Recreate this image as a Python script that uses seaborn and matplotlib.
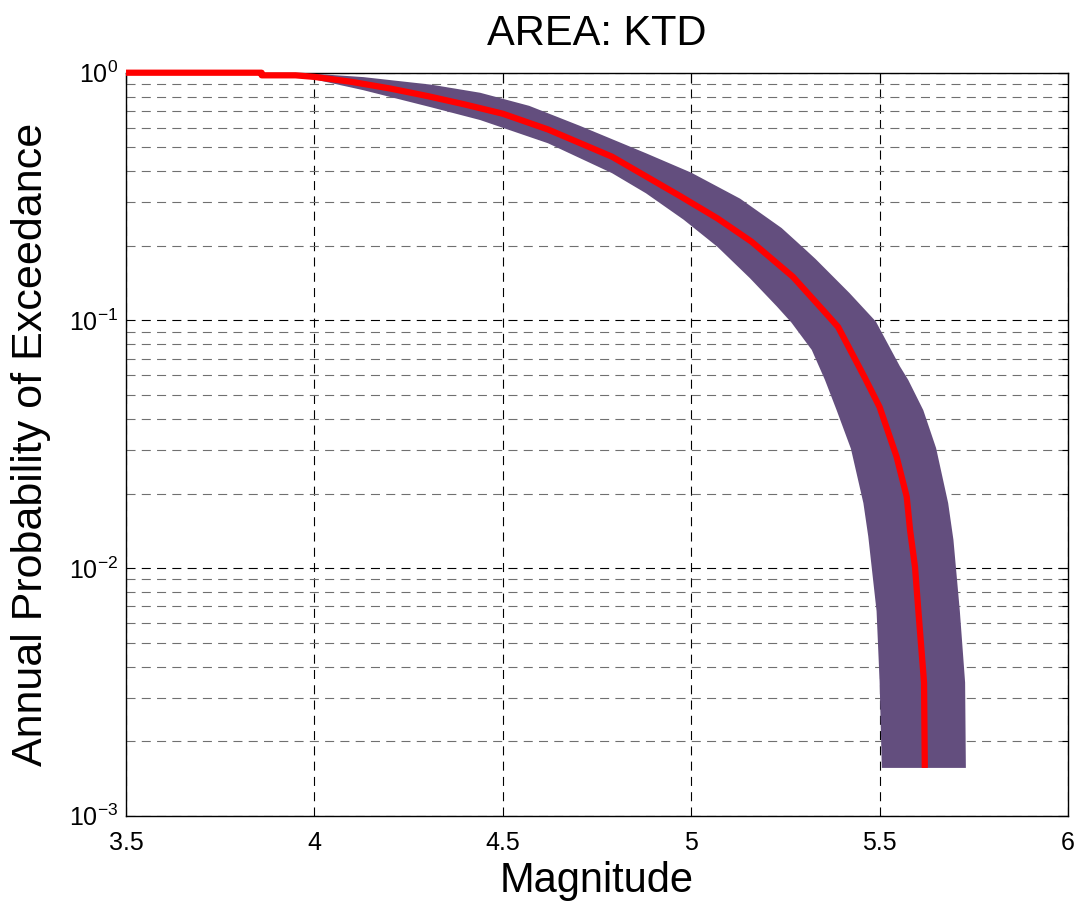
#Annual probability of exceedance vs magnitude, area KTD
#Saves the chart as out.png

import numpy as np
import pandas as pd
from matplotlib import pyplot as plt
from matplotlib import ticker
import seaborn as sns

#Mean curve (red line)
mag_mean = [3.50, 3.86, 3.86, 3.95, 4.00, 4.10, 4.20, 4.30, 4.40, 4.50, 4.62, 4.79, 4.97,
            5.07, 5.16, 5.27, 5.35, 5.39, 5.46, 5.50, 5.545, 5.572, 5.581, 5.594, 5.603, 5.612,
            5.618, 5.620]
prob_mean = [1.000, 1.000, 0.976, 0.976, 0.962, 0.918, 0.864, 0.805, 0.744, 0.683, 0.590,
             0.458, 0.318, 0.258, 0.208, 0.150, 0.110, 0.094, 0.059, 0.0447, 0.0282, 0.0194,
             0.0142, 0.0101, 0.0067, 0.0045, 0.00345, 0.00156]

#Upper (right) edge of the uncertainty band
mag_hi = [3.93, 4.00, 4.13, 4.31, 4.44, 4.57, 4.705, 4.88, 5.00, 5.13, 5.24, 5.30, 5.33, 5.42,
          5.49, 5.554, 5.576, 5.616, 5.65, 5.682, 5.696, 5.713, 5.727, 5.729]
prob_hi = [1.000, 0.990, 0.960, 0.895, 0.830, 0.735, 0.610, 0.473, 0.395, 0.310, 0.236, 0.195,
           0.177, 0.129, 0.099, 0.0652, 0.0575, 0.0434, 0.0305, 0.0183, 0.0130, 0.0067, 0.00345,
           0.00156]

#Lower (left) edge of the uncertainty band
mag_lo = [3.88, 4.00, 4.13, 4.31, 4.44, 4.62, 4.79, 4.88, 4.98, 5.07, 5.156, 5.227, 5.266, 5.32,
          5.355, 5.386, 5.424, 5.457, 5.470, 5.492, 5.500, 5.506]
prob_lo = [0.990, 0.940, 0.850, 0.725, 0.644, 0.519, 0.393, 0.326, 0.255, 0.198, 0.148, 0.114,
           0.098, 0.076, 0.0575, 0.0434, 0.0303, 0.0183, 0.0134, 0.0067, 0.0035, 0.00156]

x_ticks = [3.5, 4, 4.5, 5, 5.5, 6]
x_tick_labels = ["3.5", "4", "4.5", "5", "5.5", "6"]

sns.set_style("white")
plt.rcParams['font.family'] = ['Liberation Sans', 'DejaVu Sans']
plt.rcParams['axes.unicode_minus'] = False
plt.rcParams['lines.scale_dashes'] = False
plt.rcParams['text.color'] = 'black'
plt.rcParams['axes.labelcolor'] = 'black'
plt.rcParams['xtick.color'] = 'black'
plt.rcParams['ytick.color'] = 'black'

fig = plt.figure(figsize=(10.78, 9.09), dpi=100)
ax = fig.add_axes([0.1169, 0.1026, 0.8738, 0.8174])

#Band as one polygon: upper edge down, lower edge back up
band_x = mag_hi + mag_lo[::-1]
band_p = prob_hi + prob_lo[::-1]
ax.fill(band_x, band_p, color='#634E7E', lw=0, zorder=2)

df = pd.DataFrame({'mag': mag_mean, 'prob': prob_mean})
sns.lineplot(data=df, x='mag', y='prob', sort=False, estimator=None, color='red', lw=4.5,
             ax=ax, zorder=3, clip_on=False, solid_capstyle='butt')

ax.set_yscale('log')
ax.set_xlim(3.5, 6)
ax.set_ylim(1e-3, 1)
ax.set_xticks(x_ticks)
ax.set_xticklabels(x_tick_labels)
ax.yaxis.set_major_locator(ticker.LogLocator(base=10, numticks=10))
ax.yaxis.set_minor_locator(ticker.LogLocator(base=10, subs=np.arange(2, 10), numticks=20))
ax.yaxis.set_minor_formatter(ticker.NullFormatter())

#MATLAB style dashed grid
ax.set_axisbelow(True)
ax.grid(True, which='major', axis='both', color='black', lw=0.8, linestyle=(0, (6.5, 4.5)))
ax.grid(True, which='minor', axis='y', color='#707070', lw=0.8, linestyle=(0, (6.5, 4.5)))

ax.tick_params(which='both', direction='in', top=True, right=True, colors='black')
ax.tick_params(which='major', length=7, width=0.8, labelsize=18)
ax.tick_params(which='minor', length=4, width=0.8)
ax.tick_params(axis='x', which='major', pad=11)
ax.tick_params(axis='y', which='major', pad=6)
for s in ax.spines.values():
    s.set_color('black')
    s.set_linewidth(1.0)

ax.set_title("AREA: KTD", fontsize=30, pad=20, color='black')
ax.set_xlabel("Magnitude", fontsize=30)
ax.set_ylabel("Annual Probability of Exceedance", fontsize=31)
ax.xaxis.set_label_coords(0.5, -0.061)
ax.yaxis.set_label_coords(-0.080, 0.5)

plt.savefig('out.png', dpi=100)
